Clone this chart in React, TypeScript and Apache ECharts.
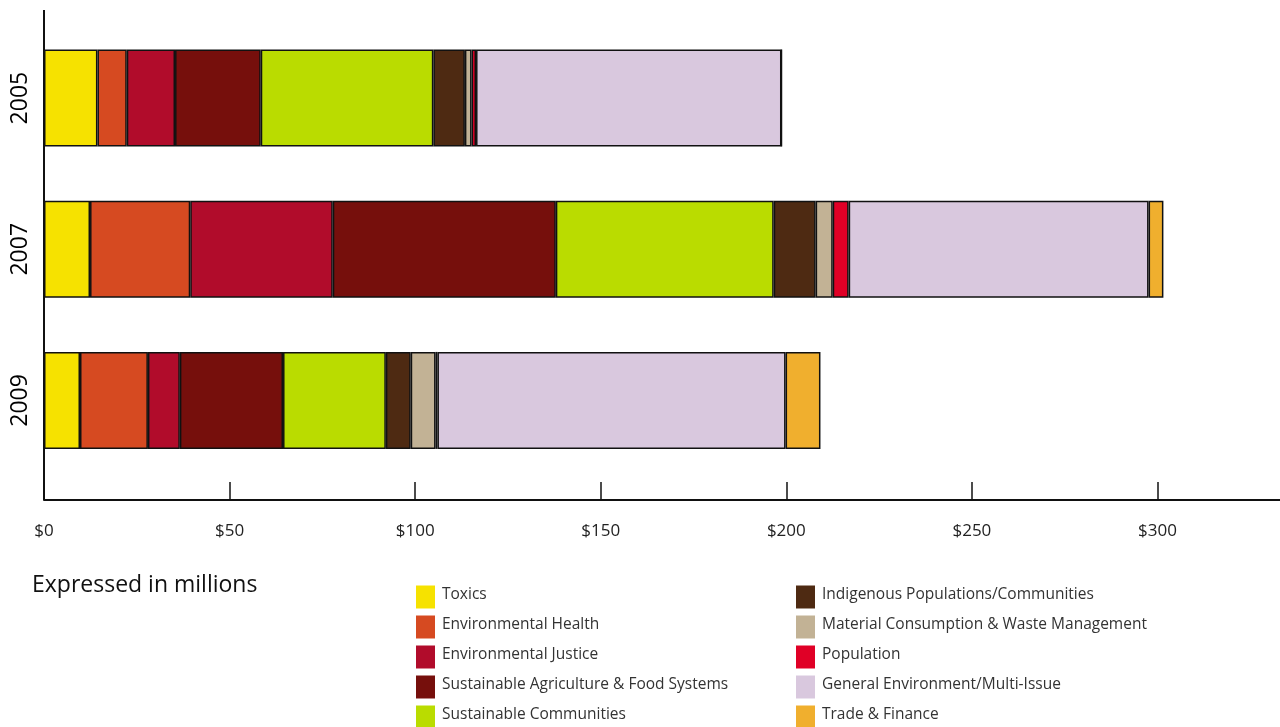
import React, { useEffect, useRef } from "react";
import * as echarts from "echarts";

const years = ["2005", "2007", "2009"];
const seriesNames = [
  "Toxics",
  "Environmental Health",
  "Environmental Justice",
  "Sustainable Agriculture & Food Systems",
  "Sustainable Communities",
  "Indigenous Populations/Communities",
  "Material Consumption & Waste Management",
  "Population",
  "General Environment/Multi-Issue",
  "Trade & Finance",
];
const toxics = [14.4, 12.4, 9.7];
const envHealth = [7.9, 27.0, 18.3];
const envJustice = [13.0, 38.4, 8.6];
const sustAg = [23.1, 60.1, 27.8];
const sustComm = [46.5, 58.7, 27.7];
const indigenous = [8.5, 11.3, 6.7];
const material = [1.8, 4.6, 6.7];
const population = [1.2, 4.3, 0.5];
const general = [82.3, 80.8, 93.8];
const trade = [0, 4.0, 9.4];
const seriesValues = [toxics, envHealth, envJustice, sustAg, sustComm, indigenous, material, population, general, trade];
const colors = ["#F6E200", "#D64A21", "#B10C2B", "#760F0C", "#BADC00", "#4E2A12", "#C2B295", "#E00026", "#D9C8DE", "#F0AF2E"];
const xTicks = [0, 50, 100, 150, 200, 250, 300];

const FONT = "'Open Sans', Lato, sans-serif";

export default function App() {
  const ref = useRef<HTMLDivElement>(null);
  useEffect(() => {
    if (!ref.current) return;
    const chart = echarts.init(ref.current, undefined, { renderer: "svg" });
    const legendItem = (name: string) => ({ name, icon: "rect" });
    const legendBase = {
      orient: "vertical",
      top: 585,
      height: 200,
      padding: 0,
      itemWidth: 19,
      itemHeight: 23,
      itemGap: 6,
      itemStyle: { borderWidth: 0 },
      formatter: (name: string) => "{a|" + name + "}\n{b|}",
      textStyle: {
        fontFamily: FONT,
        fontSize: 15.5,
        color: "#333",
        rich: {
          a: { fontFamily: FONT, fontSize: 15.5, color: "#333", lineHeight: 20, padding: [0, 0, 0, 2] },
          b: { fontSize: 4, lineHeight: 8 },
        },
      },
    };
    chart.setOption({
      animation: false,
      color: colors,
      title: {
        text: "Expressed in millions",
        left: 27,
        top: 566,
        textStyle: { fontFamily: FONT, fontSize: 23, fontWeight: "normal", color: "#111" },
      },
      legend: [
        { ...legendBase, left: 416, data: seriesNames.slice(0, 5).map(legendItem) },
        { ...legendBase, left: 796, data: seriesNames.slice(5).map(legendItem) },
      ],
      grid: { left: 44, right: 10, top: 22.5, bottom: 251, containLabel: false },
      xAxis: {
        type: "value",
        min: 0,
        max: 338.4,
        interval: 50,
        offset: 24,
        splitLine: { show: false },
        axisLine: { show: true, lineStyle: { color: "#111", width: 2 } },
        axisTick: { show: true, inside: true, length: 18, lineStyle: { color: "#111", width: 1.5 } },
        axisLabel: {
          margin: 21,
          fontFamily: FONT,
          fontSize: 17,
          color: "#222",
          formatter: (v: number) => (xTicks.includes(v) ? "$" + v : ""),
        },
      },
      yAxis: {
        type: "category",
        data: years,
        inverse: true,
        axisLine: { show: false },
        axisTick: { show: false },
        axisLabel: { rotate: 90, margin: 15, fontFamily: FONT, fontSize: 23, color: "#000" },
      },
      graphic: [
        {
          type: "line",
          shape: { x1: 44, y1: 10, x2: 44, y2: 500 },
          style: { stroke: "#111", lineWidth: 2 },
        },
      ],
      series: seriesNames.map((name, i) => ({
        name,
        type: "bar",
        stack: "total",
        barWidth: 97,
        data: seriesValues[i],
        itemStyle: { color: colors[i], borderColor: "#111", borderWidth: 1.5 },
      })),
    });
    return () => chart.dispose();
  }, []);
  return (
    <div style={{ position: "fixed", left: 0, top: 0, width: 1280, height: 727, overflow: "hidden" }}>
      <div ref={ref} style={{ width: 1310, height: 727 }} />
    </div>
  );
}
